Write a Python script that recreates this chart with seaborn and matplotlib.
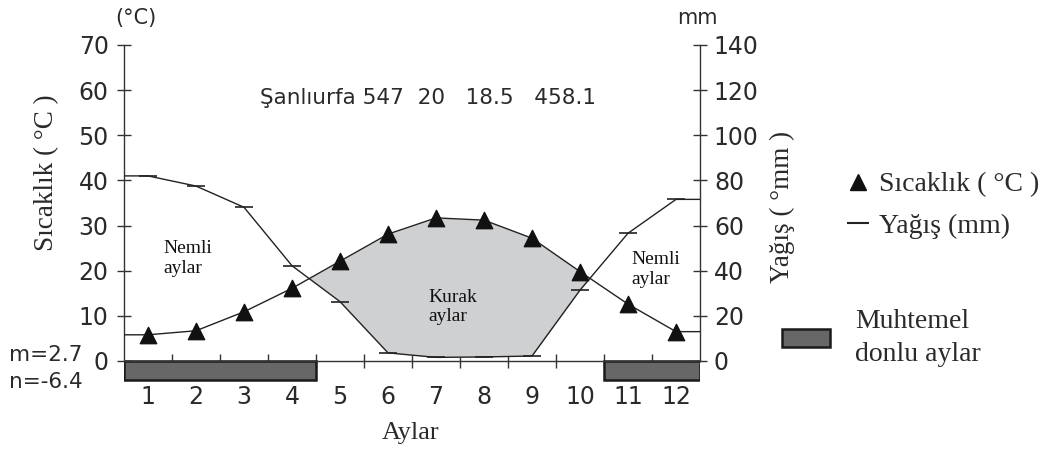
import numpy as np
import pandas as pd
import matplotlib
matplotlib.use("Agg")
import matplotlib.pyplot as plt
import seaborn as sns
from matplotlib.lines import Line2D
from matplotlib.patches import Patch, Rectangle

# ---- data ----
months = [1, 2, 3, 4, 5, 6, 7, 8, 9, 10, 11, 12]
month_labels = ["1", "2", "3", "4", "5", "6", "7", "8", "9", "10", "11", "12"]
temperature = [5.8, 6.7, 10.9, 16.1, 22.1, 28.1, 31.7, 31.2, 27.2, 19.8, 12.6, 6.5]
precipitation = [82.0, 77.5, 68.1, 42.2, 26.3, 3.6, 1.6, 1.8, 2.2, 31.4, 56.6, 71.6]
frost_months = [1, 2, 3, 4, 11, 12]
temp_ticks = [0, 10, 20, 30, 40, 50, 60, 70]
prec_ticks = [0, 20, 40, 60, 80, 100, 120, 140]
station_text = "Şanlıurfa 547  20   18.5   458.1"
m_text = "m=2.7"
n_text = "n=-6.4"

sns.set_theme(style="white")
plt.rcParams["font.family"] = ["DejaVu Sans"]

SERIF = ["Liberation Serif", "DejaVu Serif"]
SANS = ["DejaVu Sans"]
TXT = "#2a2a2a"

fig = plt.figure(figsize=(10.46, 4.5), dpi=100)
ax = fig.add_axes([124 / 1046, 0.1075, 576 / 1046, 0.8427])
ax.set_xlim(0.5, 12.5)
ax.set_ylim(-9, 75)
ax2 = ax.twinx()
ax2.set_ylim(-18, 150)

# extended series (flat to the frame edges)
xs = [0.5] + months + [12.5]
t_ext = [temperature[0]] + temperature + [temperature[-1]]
p_ext = [precipitation[0]] + precipitation + [precipitation[-1]]
p_scaled = [v / 2 for v in p_ext]

df = pd.DataFrame({"x": xs, "t": t_ext, "p": p_scaled})

# dry-period fill
t_arr = np.array(t_ext)
p_arr = np.array(p_scaled)
ax.fill_between(xs, p_arr, t_arr, where=t_arr > p_arr, interpolate=True,
                color="#cfd0d2", lw=0, zorder=1)

# lines
sns.lineplot(data=df, x="x", y="t", ax=ax, color="#222222", lw=1.0,
             sort=False, zorder=3)
sns.lineplot(data=df, x="x", y="p", ax=ax, color="#222222", lw=1.0,
             sort=False, zorder=3)
# markers at months
sns.scatterplot(x=months, y=temperature, ax=ax, marker="^", s=140,
                color="#111111", edgecolor="#111111", zorder=4)
ax.plot(months, [v / 2 for v in precipitation], ls="none", marker="_",
        ms=13, mew=1.2, color="#222222", zorder=4)

# frost months bars
bar_h = 4.2
for m in frost_months:
    ax.add_patch(Rectangle((m - 0.5, -bar_h), 1.0, bar_h, facecolor="#676767",
                           edgecolor="none", zorder=2))
groups = []
start = frost_months[0]
prev = start
for m in frost_months[1:]:
    if m != prev + 1:
        groups.append((start, prev))
        start = m
    prev = m
groups.append((start, prev))
for a, b in groups:
    ax.add_patch(Rectangle((a - 0.5, -bar_h), b - a + 1, bar_h, facecolor="none",
                           edgecolor="#1a1a1a", lw=1.8, zorder=2.2))

# spines
ax.spines["top"].set_visible(False)
ax2.spines["top"].set_visible(False)
ax.spines["right"].set_visible(False)
ax2.spines["left"].set_visible(False)
ax2.spines["bottom"].set_visible(False)
ax.spines["left"].set_bounds(0, 70)
ax.spines["bottom"].set_position(("data", 0))
ax.spines["bottom"].set_bounds(0.5, 12.5)
ax2.spines["right"].set_bounds(0, 140)
for sp in [ax.spines["left"], ax.spines["bottom"], ax2.spines["right"]]:
    sp.set_color("#333333")
    sp.set_linewidth(1.0)

# ticks
ax.set_yticks(temp_ticks)
ax.set_yticklabels([str(v) for v in temp_ticks])
ax.tick_params(axis="y", direction="inout", length=10, width=1.0, color="#333333",
               labelsize=17, pad=6, labelcolor=TXT, left=True)
ax2.set_yticks(prec_ticks)
ax2.set_yticklabels([str(v) for v in prec_ticks])
ax2.tick_params(axis="y", direction="inout", length=10, width=1.0, color="#333333",
                labelsize=17, pad=5, labelcolor=TXT, right=True)

ax.set_xticks([m + 0.5 for m in months[:-1]])
ax.set_xticklabels([])
ax.tick_params(axis="x", which="major", direction="inout", length=10, width=1.0,
               color="#333333", bottom=True)
ax.set_xticks(months, minor=True)
ax.set_xticklabels(month_labels, minor=True)
ax.tick_params(axis="x", which="minor", length=0, labelsize=17, pad=17,
               labelcolor=TXT, bottom=True)
ax.set_xlabel("")
ax.set_ylabel("")
ax2.set_ylabel("")

# axis labels
fig.text(47 / 1046, 1 - 173 / 450, "Sıcaklık ( °C )", rotation=90, ha="center",
         va="center", fontsize=19.5, family=SERIF, color=TXT)
fig.text(782 / 1046, 1 - 207 / 450, "Yağış ( °mm )", rotation=90, ha="center",
         va="center", fontsize=19.5, family=SERIF, color=TXT)
fig.text(411 / 1046, 1 - 433 / 450, "Aylar", ha="center", va="center",
         fontsize=19, family=SERIF, color=TXT)
fig.text(136 / 1046, 1 - 18 / 450, "(°C)", ha="center", va="center",
         fontsize=15, family=SANS, color=TXT)
fig.text(697 / 1046, 1 - 18 / 450, "mm", ha="center", va="center",
         fontsize=15, family=SANS, color=TXT)
fig.text(9 / 1046, 1 - 355 / 450, m_text, ha="left", va="center",
         fontsize=15.5, family=SANS, color=TXT)
fig.text(9 / 1046, 1 - 382 / 450, n_text, ha="left", va="center",
         fontsize=15.5, family=SANS, color=TXT)

# in-plot annotations
ax.text(6.83, 58.3, station_text, ha="center", va="center", fontsize=15.5,
        family=SANS, color=TXT)
ax.text(1.33, 22.7, "Nemli\naylar", ha="left", va="center", fontsize=14,
        family=SERIF, color="#111111", linespacing=1.2)
ax.text(6.85, 12.0, "Kurak\naylar", ha="left", va="center", fontsize=14,
        family=SERIF, color="#111111", linespacing=1.2)
ax.text(11.08, 20.3, "Nemli\naylar", ha="left", va="center", fontsize=14,
        family=SERIF, color="#111111", linespacing=1.2)

# legends
h1 = [Line2D([], [], ls="none", marker="^", ms=11, color="#111111"),
      Line2D([], [], ls="none", marker="_", ms=16, mew=1.5, color="#222222")]
leg1 = fig.legend(h1, ["Sıcaklık ( °C )", "Yağış (mm)"], loc="upper left",
                  bbox_to_anchor=(844 / 1046, 1 - 172 / 450), frameon=False,
                  prop={"family": SERIF, "size": 20}, handlelength=1.0,
                  handletextpad=0.25, labelspacing=0.58, borderpad=0,
                  borderaxespad=0)
for t in leg1.get_texts():
    t.set_color(TXT)
h2 = [Patch(facecolor="#676767", edgecolor="#1a1a1a", lw=1.8)]
leg2 = fig.legend(h2, ["Muhtemel\ndonlu aylar"], loc="upper left",
                  bbox_to_anchor=(782 / 1046, 1 - 309 / 450), frameon=False,
                  prop={"family": SERIF, "size": 20}, handlelength=1.73,
                  handleheight=0.62, handletextpad=0.9, borderpad=0,
                  borderaxespad=0)
for t in leg2.get_texts():
    t.set_color(TXT)
    t.set_linespacing(1.4)

fig.savefig("out.png", dpi=100)
